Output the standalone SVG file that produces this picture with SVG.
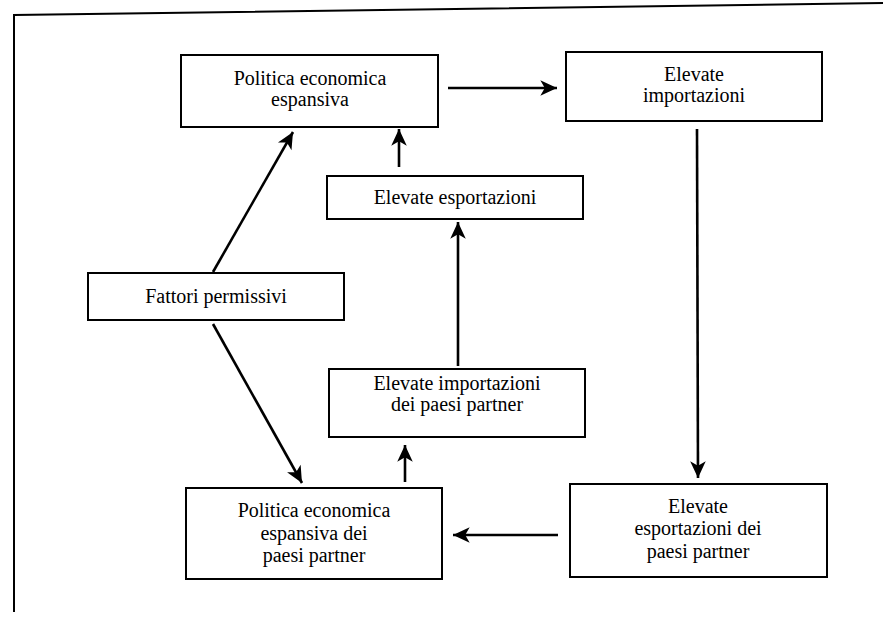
<svg xmlns="http://www.w3.org/2000/svg" width="883" height="618" viewBox="0 0 883 618">
<style>
.box{fill:#fff;stroke:#000;stroke-width:2}
.t{font-family:'Liberation Serif','Times New Roman',serif;font-size:20px;text-anchor:middle;fill:#000}
.c{stroke:#000;stroke-width:2.6;fill:none;marker-end:url(#ah)}
</style>
<defs>
<marker id="ah" markerUnits="userSpaceOnUse" markerWidth="20" markerHeight="20" viewBox="-16 -8 18 16" refX="0" refY="0" orient="auto">
<path d="M0,0 L-15,-7 L-11,0 L-15,7 Z" fill="#000"/>
</marker>
</defs>
<rect width="883" height="618" fill="#fff"/>
<path d="M14,612 L14,15 L883,3" fill="none" stroke="#000" stroke-width="2"/>
<g id="connectors">
<line class="c" x1="448" y1="88" x2="557" y2="88"/>
<line class="c" x1="697" y1="129" x2="698" y2="478"/>
<line class="c" x1="558" y1="535" x2="453" y2="535"/>
<line class="c" x1="405" y1="482" x2="405" y2="445"/>
<line class="c" x1="458" y1="366" x2="458" y2="222"/>
<line class="c" x1="399" y1="167" x2="399" y2="129"/>
<line class="c" x1="213" y1="272" x2="293" y2="132"/>
<line class="c" x1="213" y1="324" x2="302" y2="483"/>
</g>
<g id="n1"><rect class="box" x="181" y="55" width="257" height="72"/>
<text class="t" x="310" y="85">Politica economica</text><text class="t" x="310" y="106">espansiva</text></g>
<g id="n2"><rect class="box" x="566" y="52" width="256" height="69"/>
<text class="t" x="694" y="81">Elevate</text><text class="t" x="694" y="102">importazioni</text></g>
<g id="n3"><rect class="box" x="327" y="176" width="256" height="43"/>
<text class="t" x="455" y="204">Elevate esportazioni</text></g>
<g id="n4"><rect class="box" x="88" y="273" width="256" height="47"/>
<text class="t" x="216" y="303">Fattori permissivi</text></g>
<g id="n5"><rect class="box" x="329" y="369" width="256" height="68"/>
<text class="t" x="457" y="390">Elevate importazioni</text><text class="t" x="457" y="411">dei paesi partner</text></g>
<g id="n6"><rect class="box" x="186" y="488" width="256" height="91"/>
<text class="t" x="314" y="517">Politica economica</text><text class="t" x="314" y="540">espansiva dei</text><text class="t" x="314" y="562">paesi partner</text></g>
<g id="n7"><rect class="box" x="570" y="484" width="257" height="93"/>
<text class="t" x="698" y="513">Elevate</text><text class="t" x="698" y="535">esportazioni dei</text><text class="t" x="698" y="558">paesi partner</text></g>
</svg>
